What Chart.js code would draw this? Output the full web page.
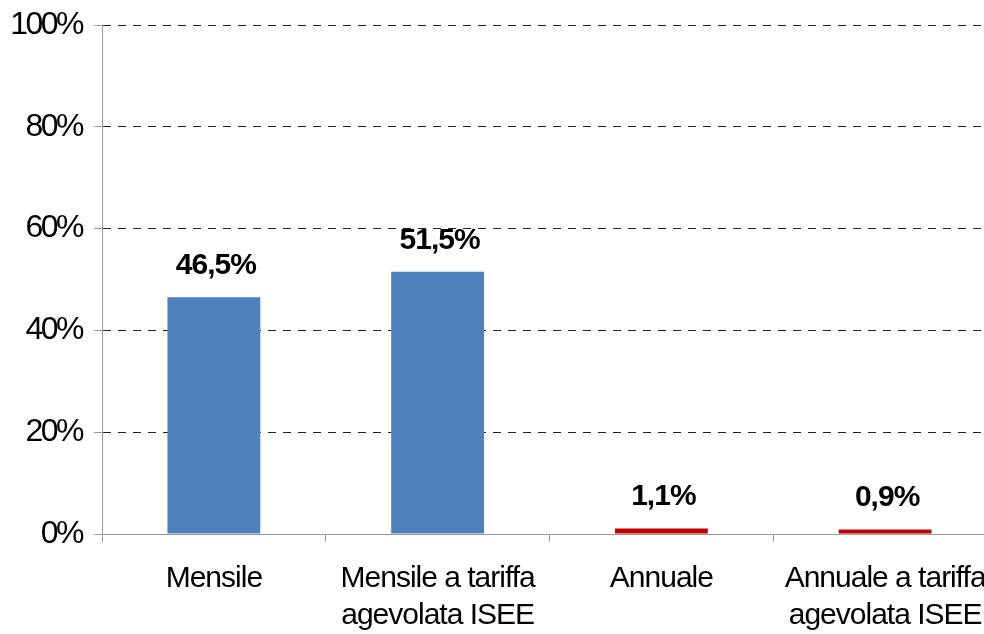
<!DOCTYPE html>
<html>
<head>
<meta charset="utf-8">
<script src="https://cdn.jsdelivr.net/npm/chart.js@4"></script>
<style>
  html, body { margin: 0; padding: 0; background: #fff; overflow: hidden; }
  canvas { display: block; }
</style>
</head>
<body>
<canvas id="chart" width="1000" height="680"></canvas>
<script>
'use strict';

// data
const categories = [
	['Mensile'],
	['Mensile a tariffa', 'agevolata ISEE'],
	['Annuale'],
	['Annuale a tariffa', 'agevolata ISEE']
];
const shares = [46.5, 51.5, 1.1, 0.9];
const yMax = 100;
const yStep = 20;

const barColors = ['#4F81BD', '#4F81BD', '#C00000', '#C00000'];
const axisGrey = '#9a9a9a';

let fmt = (v) => v.toFixed(1).replace('.', ',') + '%';

// tighter glyph spacing like the original export
let spacing = (scale, px) => {
	if (scale._spaced) return;
	let orig = scale.drawLabels.bind(scale);
	scale.drawLabels = (area) => {
		scale.ctx.save();
		scale.ctx.letterSpacing = px;
		orig(area);
		scale.ctx.restore();
	};
	scale._spaced = true;
};

// no extra room for overhanging labels, the plot runs off the page
let noPad = (scale) => {
	scale.paddingLeft = 0;
	scale.paddingRight = 0;
	scale.paddingTop = 0;
	scale.paddingBottom = 0;
};

let valueLabels = {
	id: 'valueLabels',
	afterLayout: (chart) => {
		spacing(chart.scales.y, '-2.5px');
		spacing(chart.scales.x, '-1px');
	},
	afterDatasetsDraw: (chart) => {
		let ctx = chart.ctx;
		let meta = chart.getDatasetMeta(0);
		ctx.save();
		ctx.font = 'bold 30px "Liberation Sans", Arial, sans-serif';
		ctx.letterSpacing = '-1px';
		ctx.fillStyle = '#000';
		ctx.textAlign = 'center';
		ctx.textBaseline = 'alphabetic';
		meta.data.forEach((bar, i) => {
			ctx.fillText(fmt(shares[i]), bar.x + 2, bar.y - 23);
		});
		ctx.restore();
	}
};

let myBarChart = new Chart(document.getElementById('chart'), {
	type: 'bar',
	data: {
		labels: categories,
		datasets: [{
			data: shares,
			backgroundColor: barColors,
			borderWidth: 0,
			categoryPercentage: 1,
			barPercentage: 0.415
		}]
	},
	options: {
		responsive: false,
		animation: false,
		devicePixelRatio: 1,
		layout: { padding: { top: 25, right: 3, left: 0, bottom: 0 } },
		plugins: {
			legend: { display: false },
			tooltip: { enabled: false }
		},
		scales: {
			x: {
				offset: true,
				afterFit: (scale) => { scale.height = 146; noPad(scale); },
				grid: {
					drawOnChartArea: false,
					drawTicks: true,
					tickLength: 8,
					color: axisGrey,
					tickColor: axisGrey
				},
				border: { color: axisGrey, width: 1 },
				ticks: {
					color: '#000',
					padding: 18,
					maxRotation: 0,
					autoSkip: false,
					font: { family: '"Liberation Sans", Arial, sans-serif', size: 30, lineHeight: '37px' }
				}
			},
			y: {
				min: 0,
				max: yMax,
				afterFit: (scale) => { scale.width = 102; noPad(scale); },
				grid: {
					color: (c) => c.tick && c.tick.value === 0 ? 'rgba(0,0,0,0)' : '#222',
					tickColor: axisGrey,
					tickLength: 8,
					lineWidth: 1
				},
				border: { color: axisGrey, width: 1, dash: [8, 7] },
				ticks: {
					stepSize: yStep,
					color: '#000',
					padding: 12,
					callback: (v) => v + '%',
					font: { family: '"Liberation Sans", Arial, sans-serif', size: 32 }
				}
			}
		}
	},
	plugins: [valueLabels]
});
</script>
</body>
</html>
